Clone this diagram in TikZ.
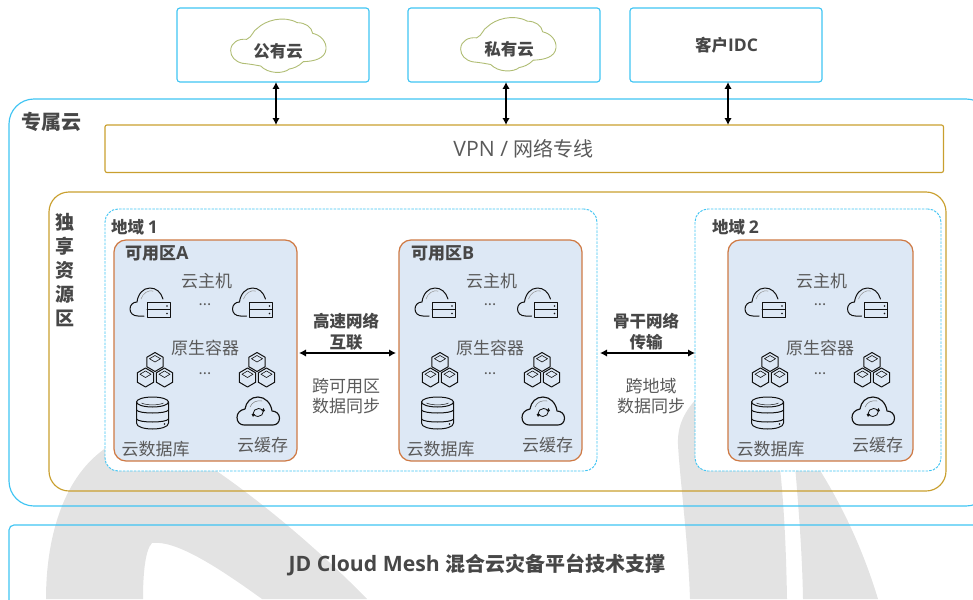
\documentclass[tikz,border=0pt]{standalone}
\usepackage{fontspec}
\setmainfont{Noto Sans CJK SC}
\newfontfamily\latf[Scale=1.06]{Open Sans}
\usetikzlibrary{arrows.meta}
\definecolor{sky}{HTML}{3FC4F3}
\definecolor{gold}{HTML}{C99F2E}
\definecolor{rust}{HTML}{CF7A45}
\definecolor{zonefill}{HTML}{DDE8F5}
\definecolor{txt}{HTML}{5A5A5A}
\definecolor{txtb}{HTML}{474747}
\definecolor{wm}{HTML}{E3E3E3}
\definecolor{olive}{HTML}{B0BD74}
\definecolor{ink}{HTML}{111111}
\tikzset{
  x=1pt,y=-1pt,
  box/.style={draw,inner sep=0pt,outer sep=0pt},
  skybox/.style={box,draw=sky,line width=1.15pt},
  goldbox/.style={box,draw=gold,line width=1.15pt},
  regionbox/.style={box,draw=sky,fill=white,line width=0.95pt,dash pattern=on 2.5pt off 1.2pt,rounded corners=13pt},
  zonebox/.style={box,draw=rust,fill=zonefill,line width=1.25pt,rounded corners=12pt},
  lab/.style={text=txt,inner sep=0pt,font=\fontsize{17}{20}\selectfont},
  blab/.style={text=txtb,inner sep=0pt,font=\bfseries\fontsize{16.5}{20}\selectfont},
  link/.style={draw=black,line width=1.8pt,{Latex[length=7pt,width=7.5pt]}-{Latex[length=7pt,width=7.5pt]}},
  icon/.style={draw=ink,line width=1pt,line join=round,line cap=round},
  pics/cloudserver/.style={code={
    \draw[icon] (14,28) -- (8,28) .. controls (3,28) and (0,25) .. (0,21) .. controls (0,17) and (3,14) .. (7,14)
      .. controls (8,6) and (13,0) .. (20,0) .. controls (26,0) and (31,4) .. (33,11);
    \draw[icon,draw=ink!45,line width=0.5pt] (11,11) .. controls (13,5) and (18,2) .. (23,3);
    \draw[icon] (17,14) rectangle (40,29) (17,21.5) -- (40,21.5);
    \fill[ink] (37,18) circle (0.8) (37,25.5) circle (0.8);
  }},
  pics/cube/.style={code={
    \draw[icon] (0,-9.5) -- (8.2,-4.7) -- (8.2,4.7) -- (0,9.5) -- (-8.2,4.7) -- (-8.2,-4.7) -- cycle;
    \draw[icon,line width=0.6pt] (0,-6.5) -- (5.5,-3.3) -- (0,0) -- (-5.5,-3.3) -- cycle;
  }},
  pics/cubes/.style={code={
    \pic at (9.5,0) {cube};
    \pic at (0,15.5) {cube};
    \pic at (19,15.5) {cube};
  }},
  pics/dbicon/.style={code={
    \draw[icon] (-16,-11) -- (-16,10) .. controls (-16,14) and (-8,16) .. (0,16) .. controls (8,16) and (16,14) .. (16,10) -- (16,-11);
    \draw[icon] (0,-11) ellipse (16 and 5);
    \draw[icon,line width=0.5pt] (-11,-10) .. controls (-6,-7.5) and (6,-7.5) .. (11,-10);
    \draw[icon] (-16,-3) .. controls (-14,1) and (14,1) .. (16,-3);
    \draw[icon] (-16,6) .. controls (-14,10) and (14,10) .. (16,6);
    \fill[ink] (12,11) circle (0.8);
  }},
  pics/cacheicon/.style={code={
    \draw[icon,line width=1.15pt] (7,28) -- (36,28) .. controls (40,28) and (42.5,25) .. (42.5,21) .. controls (42.5,17) and (39,14) .. (35,14)
      .. controls (34,6) and (28,0) .. (21,0) .. controls (14,0) and (9,5) .. (8,12)
      .. controls (3,13) and (0,16) .. (0,20.5) .. controls (0,25) and (3,28) .. (7,28) -- cycle;
    \draw[icon,draw=ink!55,line width=0.5pt] (13,10) .. controls (15,5) and (20,3) .. (25,4);
    \draw[icon,line width=0.8pt] (16,17) arc (180:330:5.5);
    \draw[icon,line width=0.8pt] (26.5,14) arc (0:150:5.5);
    \fill[ink] (14.5,17) -- (18,17) -- (16,20) -- cycle (28,14) -- (24.5,14) -- (26.5,11) -- cycle;
  }},
  pics/azcontent/.style={code={
    \node[lab] (host) at (206.5,281) {云主机};
    \pic at (130,288) {cloudserver};
    \pic at (232.5,288) {cloudserver};
    \node[lab,font=\fontsize{15}{15}\selectfont] (d1) at (205,305) {...};
    \node[lab] (ctr) at (205,348) {原生容器};
    \pic at (145.5,362) {cubes};
    \pic at (247.5,362) {cubes};
    \node[lab,font=\fontsize{15}{15}\selectfont] (d2) at (205,374) {...};
    \pic at (152.5,413) {dbicon};
    \pic at (237,397) {cacheicon};
    \node[lab] (db) at (155.5,449) {云数据库};
    \node[lab] (cache) at (262.5,445) {云缓存};
  }},
  pics/wcloud/.style={code={
    \draw[olive,line width=0.9pt,fill=white]
      (182,152) .. controls (182,128) and (205,115) .. (230,118)
      .. controls (248,110) and (248,92) .. (262,85)
      .. controls (285,62) and (340,45) .. (382,68)
      .. controls (405,68) and (425,80) .. (428,100)
      .. controls (452,105) and (470,125) .. (468,148)
      .. controls (465,175) and (435,184) .. (400,185)
      .. controls (385,200) and (370,205) .. (358,207)
      .. controls (340,222) and (295,222) .. (272,198)
      .. controls (255,195) and (240,192) .. (218,190)
      .. controls (195,185) and (182,170) .. (182,152) -- cycle;
  }},
}
\begin{document}
\begin{tikzpicture}
\clip (0,0) rectangle (973,599);
% watermark
\fill[wm] (46,599) .. controls (46,540) and (62,480) .. (103,450) .. controls (115,440) and (125,430) .. (135,425)
  .. controls (190,445) and (290,520) .. (367,599) -- (262,599) .. controls (215,565) and (175,540) .. (152,543)
  .. controls (145,550) and (143,575) .. (143,599) -- cycle;
\fill[wm] (700,395) .. controls (685,410) and (677,425) .. (678,445) .. controls (680,480) and (688,540) .. (690,599)
  -- (787,599) .. controls (786,540) and (783,480) .. (775,430) -- (765,395) -- cycle;
\fill[wm] (793,440) .. controls (796,480) and (802,540) .. (803,599) -- (878,599) .. controls (860,540) and (835,490) .. (800,440) -- cycle;

% top boxes
\node[skybox,rounded corners=3pt,minimum width=192pt,minimum height=74pt] (pub) at (273,45) {};
\node[skybox,rounded corners=3pt,minimum width=192pt,minimum height=74pt] (pri) at (504,45) {};
\node[skybox,rounded corners=3pt,minimum width=192pt,minimum height=74pt] (idc) at (726,45) {};
\pic[scale=1/3] at (170,0) {wcloud};
\pic[scale=1/3] at (400,-1.5) {wcloud};
\node[blab] (pubt) at (278,51) {公有云};
\node[blab] (prit) at (509,49) {私有云};
\node[blab] (idct) at (726.5,45) {客户{\latf IDC}};

% containers
\node[skybox,rounded corners=25pt,minimum width=982pt,minimum height=407pt] (outer) at (500,302.5) {};
\node[blab,font=\bfseries\fontsize{20}{22}\selectfont] (outert) at (51,122) {专属云};
\node[goldbox,rounded corners=2pt,minimum width=838.5pt,minimum height=47.5pt] (vpn) at (524.25,148.75) {};
\node[lab,font=\fontsize{20}{24}\selectfont] (vpnt) at (523.5,149) {{\latf VPN / }网络专线};
\node[goldbox,rounded corners=20pt,minimum width=897pt,minimum height=299pt] (excl) at (497.5,341.5) {};
\node[blab,font=\bfseries\fontsize{19}{24}\selectfont,align=center] (exclt) at (65,222) {独};
\node[blab,font=\bfseries\fontsize{19}{24}\selectfont] (exclb) at (65,246.5) {享};
\node[blab,font=\bfseries\fontsize{19}{24}\selectfont] (exclc) at (65,270.5) {资};
\node[blab,font=\bfseries\fontsize{19}{24}\selectfont] (excld) at (65,294.5) {源};
\node[blab,font=\bfseries\fontsize{19}{24}\selectfont] (excle) at (65,318.5) {区};

% regions
\node[regionbox,minimum width=492pt,minimum height=262pt] (r1) at (351,340) {};
\node[regionbox,minimum width=246pt,minimum height=262pt] (r2) at (818,340) {};
\node[blab,anchor=west] (r1t) at (111,227) {地域 {\latf 1}};
\node[blab,anchor=west] (r2t) at (712,227) {地域 {\latf 2}};

% zones
\node[zonebox,minimum width=183pt,minimum height=221pt] (za) at (205.5,350.5) {};
\node[zonebox,minimum width=183pt,minimum height=221pt] (zb) at (490.5,350.5) {};
\node[zonebox,minimum width=185pt,minimum height=221pt] (zc) at (820.5,350.5) {};
\node[blab,anchor=west,font=\bfseries\fontsize{17}{20}\selectfont] (zat) at (125,253) {可用区{\latf A}};
\node[blab,anchor=west,font=\bfseries\fontsize{17}{20}\selectfont] (zbt) at (411,253) {可用区{\latf B}};
\pic (pa) at (0,0) {azcontent};
\pic (pb) at (285,0) {azcontent};
\pic (pc) at (615,0) {azcontent};

% middle labels
\node[blab] (m1) at (346,321) {高速网络};
\node[blab] (m2) at (346,342) {互联};
\node[lab] (m3) at (346,386) {跨可用区};
\node[lab] (m4) at (346,406) {数据同步};
\node[blab] (n1) at (646,321) {骨干网络};
\node[blab] (n2) at (646,342) {传输};
\node[lab] (n3) at (651,386) {跨地域};
\node[lab] (n4) at (651,406) {数据同步};

% bottom
\node[skybox,rounded corners=5pt,minimum width=982pt,minimum height=90pt] (base) at (500,570) {};
\node[blab,font=\bfseries\fontsize{20}{24}\selectfont] (baset) at (477,565) {{\latf JD Cloud Mesh }混合云灾备平台技术支撑};

% connectors
\coordinate (x1) at (276,0);
\coordinate (x2) at (506,0);
\coordinate (x3) at (728,0);
\coordinate (y1) at (0,353);
\draw[link] (x1 |- pub.south) -- (x1 |- vpn.north);
\draw[link] (x2 |- pri.south) -- (x2 |- vpn.north);
\draw[link] (x3 |- idc.south) -- (x3 |- vpn.north);
\draw[link,shorten <=2pt,shorten >=3pt] (za.east |- y1) -- (zb.west |- y1);
\draw[link,shorten <=3pt] (r1.east |- y1) -- (r2.west |- y1);
\end{tikzpicture}
\end{document}
